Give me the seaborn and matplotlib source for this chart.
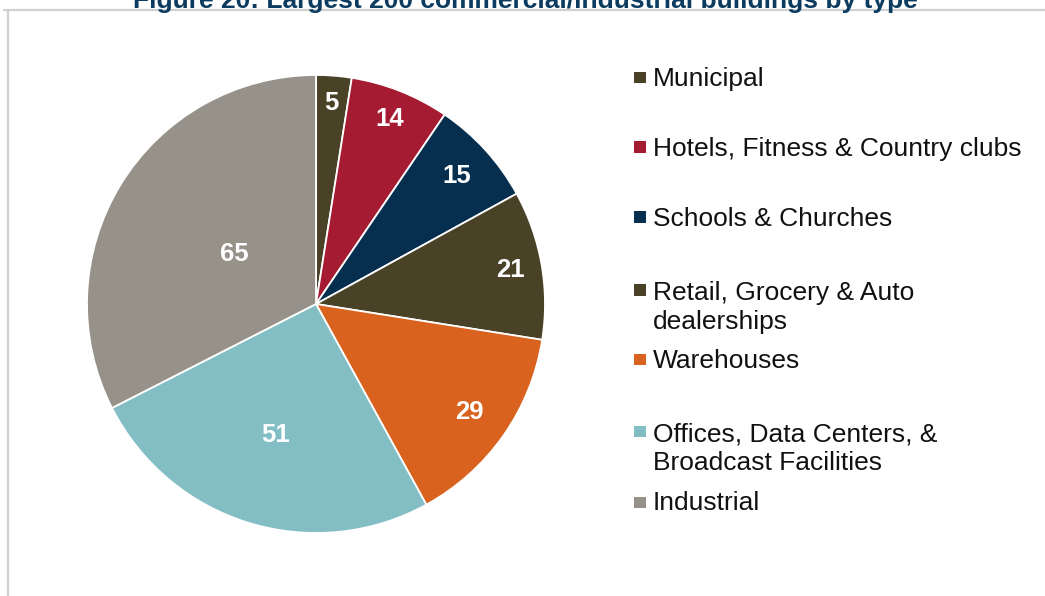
import numpy as np
import matplotlib
matplotlib.use("Agg")
import matplotlib.pyplot as plt
from matplotlib.patches import Rectangle
from matplotlib.lines import Line2D
import seaborn as sns

# Building counts by type (largest 200 buildings)
categories = [
    "Municipal",
    "Hotels, Fitness & Country clubs",
    "Schools & Churches",
    "Retail, Grocery & Auto\ndealerships",
    "Warehouses",
    "Offices, Data Centers, &\nBroadcast Facilities",
    "Industrial",
]
counts = [5, 14, 15, 21, 29, 51, 65]
colors = ["#4a4227", "#a51b31", "#062e4f", "#4a4227", "#d9621f", "#84bec5", "#969289"]
title = "Figure 20: Largest 200 commercial/industrial buildings by type"

sns.set_theme(style="white")
plt.rcParams["font.family"] = ["Liberation Sans", "DejaVu Sans"]

W, H = 1045, 596
fig = plt.figure(figsize=(W / 100, H / 100), dpi=100)
fig.patch.set_facecolor("white")

def fx(px):
    return px / W

def fy(py):
    return 1 - py / H

# pie axes: centre (316, 304) px, radius 229 px
cx, cy, r = 316, 304, 229
ax = fig.add_axes([fx(cx - r), fy(cy + r), 2 * r / W, 2 * r / H])
wedges, _ = ax.pie(
    counts,
    colors=colors,
    startangle=90,
    counterclock=False,
    radius=1,
    wedgeprops=dict(edgecolor="white", linewidth=1.3),
)
ax.set_xlim(-1, 1)
ax.set_ylim(-1, 1)
ax.set_axis_off()

# value labels inside each slice
label_dist = [0.88, 0.87, 0.83, 0.86, 0.82, 0.60, 0.42]
for w, v, d in zip(wedges, counts, label_dist):
    ang = np.deg2rad((w.theta1 + w.theta2) / 2)
    ax.text(d * np.cos(ang), d * np.sin(ang), str(v), ha="center", va="center",
            color="white", fontsize=18.5, fontweight="bold")

# legend, drawn as square markers with text (30 px between wrapped lines)
legend_y = [77.5, 147, 217, 290, 359, 431, 502]
for lab, col, y in zip(categories, colors, legend_y):
    fig.patches.append(Rectangle((fx(634), fy(y + 5.5)), 12 / W, 11 / H,
                                 transform=fig.transFigure, facecolor=col,
                                 edgecolor="none"))
    extra = 30 * lab.count("\n")
    fig.text(fx(653), fy(y + 8.5 + extra), lab, ha="left", va="baseline",
             fontsize=19, color="#111111", linespacing=1.22)

# frame lines
fig.add_artist(Line2D([fx(4), 1.0], [fy(10), fy(10)], transform=fig.transFigure,
                      color="#d0d0d0", linewidth=1.6))
fig.add_artist(Line2D([fx(8), fx(8)], [fy(10), 0.0], transform=fig.transFigure,
                      color="#d0d0d0", linewidth=1.6))

# title, partly clipped by the top edge
fig.text(fx(525), fy(8), title, ha="center", va="baseline", fontsize=19,
         fontweight="bold", color="#0b3b5e")

fig.savefig("out.png", dpi=100, facecolor="white")
